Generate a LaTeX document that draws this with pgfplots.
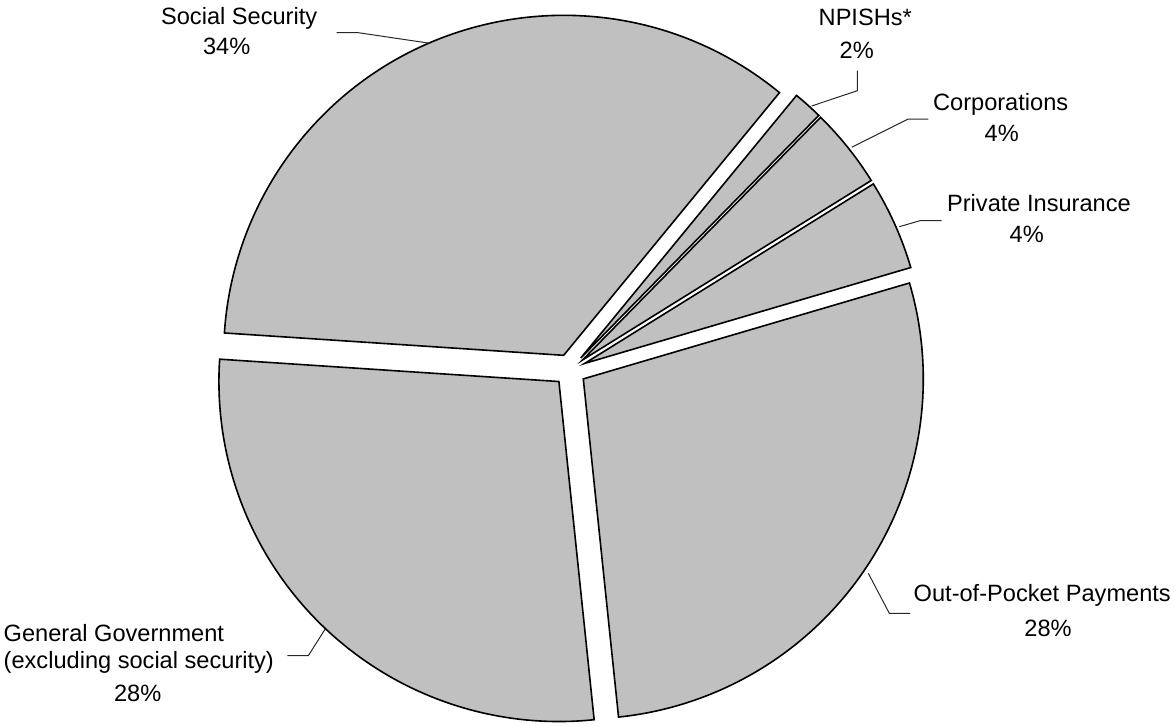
\documentclass[border=0pt]{standalone}
\usepackage{pgfplots}
\usepackage{pgfplotstable}
\pgfplotsset{compat=1.18}
\usepackage{fontspec}
\setmainfont{Liberation Sans}
\definecolor{piegray}{RGB}{192,192,192}
\definecolor{leader}{RGB}{40,40,40}
\tikzset{lbl/.style={font=\fontsize{11.8}{14}\selectfont, inner sep=0pt, text=black}}

% slices, counter-clockwise from the lower edge of Out-of-Pocket Payments
\pgfplotstableread[col sep=comma]{
name,value
Out-of-Pocket Payments,27.9
Private Insurance,4.3
Corporations,3.8
NPISHs,1.4
Social Security,34.9
General Government,27.7
}\piedata

\begin{document}
\begin{tikzpicture}
\begin{axis}[
  x=0.5pt, y=0.5pt,
  xmin=0, xmax=1176, ymin=0, ymax=725,
  hide axis, clip=false,
]
\pgfplotstablegetrowsof{\piedata}
\pgfmathtruncatemacro\nrows{\pgfplotsretval-1}
\gdef\cum{-84.05}
\foreach \i in {0,...,\nrows} {
  \pgfplotstablegetelem{\i}{value}\of{\piedata}
  \pgfmathsetmacro\a{\cum}
  \pgfmathsetmacro\b{\cum+3.6*\pgfplotsretval}
  \pgfmathsetmacro\m{(\a+\b)/2}
  \pgfmathsetmacro\cx{570+16*cos(\m)}
  \pgfmathsetmacro\cy{355+16*sin(\m)}
  \edef\temp{\noexpand\filldraw[fill=piegray,draw=black,line width=0.8pt,line join=miter]
    (axis cs:\cx,\cy) -- ++(\a:170pt) arc[start angle=\a,end angle=\b,radius=170pt] -- cycle;}
  \temp
  \xdef\cum{\b}
}
% leader lines
\draw[leader, line width=0.5pt] (axis cs:336.7,692.3) -- (axis cs:358.3,692.3) -- (axis cs:430,681.7);
\draw[leader, line width=0.5pt] (axis cs:857.3,654.3) -- (axis cs:857.3,634.3) -- (axis cs:811.7,619);
\draw[leader, line width=0.5pt] (axis cs:928.3,606) -- (axis cs:908.3,606) -- (axis cs:851.7,577.7);
\draw[leader, line width=0.5pt] (axis cs:941.7,504.3) -- (axis cs:920,504.3) -- (axis cs:899.3,498.3);
\draw[leader, line width=0.5pt] (axis cs:910,111.7) -- (axis cs:889.3,111.7) -- (axis cs:868.3,151.7);
\draw[leader, line width=0.5pt] (axis cs:287.3,69.3) -- (axis cs:308.3,69.3) -- (axis cs:325,95.7);
% labels
\node[lbl,anchor=base west] at (axis cs:160.7,700) {Social Security};
\node[lbl,anchor=base] at (axis cs:226.7,670) {34\%};
\node[lbl,anchor=base west] at (axis cs:818.3,699) {NPISHs*};
\node[lbl,anchor=base] at (axis cs:856.7,666.7) {2\%};
\node[lbl,anchor=base west] at (axis cs:932.7,615) {Corporations};
\node[lbl,anchor=base] at (axis cs:1001.7,583.3) {4\%};
\node[lbl,anchor=base west] at (axis cs:946.7,513.3) {Private Insurance};
\node[lbl,anchor=base] at (axis cs:1026.7,482.3) {4\%};
\node[lbl,anchor=base west] at (axis cs:913.3,123.3) {Out-of-Pocket Payments};
\node[lbl,anchor=base] at (axis cs:1048,89) {28\%};
\node[lbl,anchor=base west] at (axis cs:3.3,83.3) {General Government};
\node[lbl,anchor=base west] at (axis cs:3.3,57) {(excluding social security)};
\node[lbl,anchor=base] at (axis cs:137.7,23.3) {28\%};
\end{axis}
\pgfresetboundingbox
\path (0,0) rectangle (588pt,362.5pt);
\end{tikzpicture}
\end{document}
